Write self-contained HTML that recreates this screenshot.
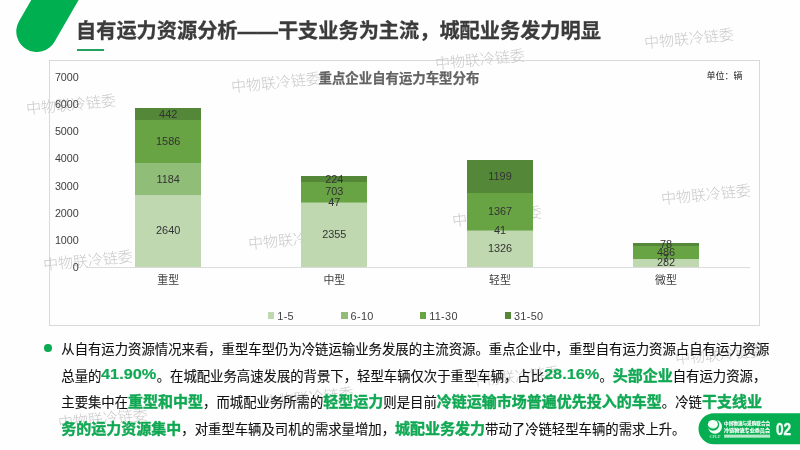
<!DOCTYPE html>
<html lang="zh-CN">
<head>
<meta charset="utf-8">
<title>自有运力资源分析</title>
<style>
html,body{margin:0;padding:0;}
body{width:800px;height:450px;overflow:hidden;background:#fefefe;font-family:"Liberation Sans","Noto Sans CJK SC",sans-serif;}
#slide{position:relative;width:800px;height:450px;overflow:hidden;background:#fefefe;}
.abs{position:absolute;white-space:nowrap;}
.pill{position:absolute;left:46.35px;top:-99.75px;width:41.4px;height:160px;border-radius:20.7px;background:#00b050;transform:rotate(30deg);transform-origin:50% 50%;}
.title{left:76px;top:15.5px;font-size:20.2px;line-height:30px;font-weight:700;color:#3b3b3b;-webkit-text-stroke:0.3px #3b3b3b;}
.tline{position:absolute;left:77px;top:49.2px;width:26.8px;height:1.8px;background:#22a15f;}
.chart{position:absolute;left:49px;top:60px;width:709px;height:264px;border:1px solid #d9d9d9;box-sizing:content-box;background:#fefefe;}
.ctitle{left:318.6px;top:69px;font-size:13.4px;line-height:20px;font-weight:700;color:#636363;-webkit-text-stroke:0.25px #636363;}
.unit{left:706.5px;top:67.8px;font-size:9px;line-height:16px;color:#1a1a1a;}
.yl{position:absolute;left:38.8px;width:40px;font-size:10.75px;line-height:14px;height:14px;color:#404040;text-align:right;}
.axis{position:absolute;left:86px;top:266.8px;width:664px;height:1px;background:#dcdcdc;}
.seg{position:absolute;width:66px;}
.s1{background:#bfd8b0;}
.s2{background:#90be78;}
.s3{background:#68a344;}
.s4{background:#548738;}
.dl{position:absolute;width:66px;text-align:center;font-size:10.9px;line-height:12px;height:12px;color:#333;}
.cat{position:absolute;width:66px;text-align:center;font-size:10.9px;line-height:14px;color:#404040;top:273px;}
.lg{position:absolute;top:312.2px;width:6.5px;height:6.5px;}
.lgt{top:308.5px;letter-spacing:0.3px;font-size:10.9px;line-height:14px;color:#404040;}
.bullet{position:absolute;left:44px;top:344.2px;width:7.6px;height:7.6px;border-radius:50%;background:#0aab53;}
.p{left:61.3px;font-size:13.36px;line-height:27px;height:27px;color:#111;-webkit-text-stroke:0.12px #111;}
.p b{font-size:15px;color:#10a853;font-weight:700;line-height:0;-webkit-text-stroke:0.4px #10a853;}
.p b.n{display:inline-block;font-size:15.4px;line-height:16px;vertical-align:baseline;-webkit-text-stroke:0.15px #10a853;position:relative;top:-1.4px;transform:scaleX(1.06);transform-origin:0 50%;margin-right:3.1px;}
.wm{position:absolute;white-space:nowrap;width:90px;text-align:center;font-size:15px;line-height:20px;height:20px;color:#c9c9c9;font-weight:300;transform:rotate(-5.5deg);transform-origin:50% 50%;}
.badge{position:absolute;left:698px;top:413px;width:120px;height:31px;border-radius:15.5px;background:#12a650;}
</style>
</head>
<body>
<div id="slide">
  <div class="pill"></div>
  <div class="abs title">自有运力资源分析——干支业务为主流，城配业务发力明显</div>
  <div class="tline"></div>

  <div class="chart"></div>
  <div class="wm" style="left:644.0px;top:29.0px">中物联冷链委</div>
  <div class="wm" style="left:435.0px;top:50.0px">中物联冷链委</div>
  <div class="wm" style="left:230.6px;top:72.8px">中物联冷链委</div>
  <div class="wm" style="left:26.0px;top:95.0px">中物联冷链委</div>
  <div class="wm" style="left:660.5px;top:185.0px">中物联冷链委</div>
  <div class="wm" style="left:451.5px;top:207.0px">中物联冷链委</div>
  <div class="wm" style="left:247.5px;top:229.5px">中物联冷链委</div>
  <div class="wm" style="left:42.5px;top:251.0px">中物联冷链委</div>
  <div class="wm" style="left:675.0px;top:344.8px">中物联冷链委</div>
  <div class="wm" style="left:470.0px;top:366.5px">中物联冷链委</div>
  <div class="wm" style="left:264.0px;top:388.0px">中物联冷链委</div>
  <div class="wm" style="left:58.0px;top:409.0px">中物联冷链委</div>
  <div class="abs ctitle">重点企业自有运力车型分布</div>
  <div class="abs unit">单位：辆</div>

  <div class="yl" style="top:69.62px">7000</div>
  <div class="yl" style="top:96.86px">6000</div>
  <div class="yl" style="top:124.10px">5000</div>
  <div class="yl" style="top:151.34px">4000</div>
  <div class="yl" style="top:178.58px">3000</div>
  <div class="yl" style="top:205.82px">2000</div>
  <div class="yl" style="top:233.06px">1000</div>
  <div class="yl" style="top:260.30px">0</div>
  <div class="axis"></div>

  <!-- bars inserted here -->
  <div id="bars">
  <div class="seg s4" style="left:135.2px;top:108.01px;height:158.59px"></div>
  <div class="seg s3" style="left:135.2px;top:119.99px;height:146.61px"></div>
  <div class="seg s2" style="left:135.2px;top:162.97px;height:103.63px"></div>
  <div class="seg s1" style="left:135.2px;top:195.06px;height:71.54px"></div>
  <div class="dl" style="left:135.2px;top:172.51px">1184</div>
  <div class="dl" style="left:135.2px;top:224.33px">2640</div>
  <div class="dl" style="left:135.2px;top:134.98px">1586</div>
  <div class="dl" style="left:135.2px;top:107.50px">442</div>
  <div class="cat" style="left:135.2px">重型</div>
  <div class="seg s4" style="left:301.3px;top:176.38px;height:90.22px"></div>
  <div class="seg s3" style="left:301.3px;top:182.45px;height:84.15px"></div>
  <div class="seg s2" style="left:301.3px;top:201.51px;height:65.09px"></div>
  <div class="seg s1" style="left:301.3px;top:202.78px;height:63.82px"></div>
  <div class="dl" style="left:301.3px;top:195.64px">47</div>
  <div class="dl" style="left:301.3px;top:228.19px">2355</div>
  <div class="dl" style="left:301.3px;top:185.48px">703</div>
  <div class="dl" style="left:301.3px;top:172.92px">224</div>
  <div class="cat" style="left:301.3px">中型</div>
  <div class="seg s4" style="left:467px;top:160.02px;height:106.58px"></div>
  <div class="seg s3" style="left:467px;top:192.51px;height:74.09px"></div>
  <div class="seg s2" style="left:467px;top:229.55px;height:37.05px"></div>
  <div class="seg s1" style="left:467px;top:230.67px;height:35.93px"></div>
  <div class="dl" style="left:467px;top:223.61px">41</div>
  <div class="dl" style="left:467px;top:242.13px">1326</div>
  <div class="dl" style="left:467px;top:204.53px">1367</div>
  <div class="dl" style="left:467px;top:169.76px">1199</div>
  <div class="cat" style="left:467px">轻型</div>
  <div class="seg s4" style="left:633px;top:243.48px;height:23.12px"></div>
  <div class="seg s3" style="left:633px;top:245.60px;height:21.00px"></div>
  <div class="seg s2" style="left:633px;top:258.77px;height:7.83px"></div>
  <div class="seg s1" style="left:633px;top:258.96px;height:7.64px"></div>
  <div class="dl" style="left:633px;top:252.36px">7</div>
  <div class="dl" style="left:633px;top:256.28px">282</div>
  <div class="dl" style="left:633px;top:245.68px">486</div>
  <div class="dl" style="left:633px;top:238.04px">78</div>
  <div class="cat" style="left:633px">微型</div>
  </div>

  <div class="lg s1" style="left:267.5px"></div><div class="abs lgt" style="left:277.3px">1-5</div>
  <div class="lg s2" style="left:341px"></div><div class="abs lgt" style="left:350.6px">6-10</div>
  <div class="lg s3" style="left:419.8px"></div><div class="abs lgt" style="left:429.2px">11-30</div>
  <div class="lg s4" style="left:504.5px"></div><div class="abs lgt" style="left:514px">31-50</div>

  <div class="bullet"></div>
  <div class="abs p" style="top:336px">从自有运力资源情况来看，重型车型仍为冷链运输业务发展的主流资源。重点企业中，重型自有运力资源占自有运力资源</div>
  <div class="abs p" style="top:362.5px">总量的<b class="n">41.90%</b>。在城配业务高速发展的背景下，轻型车辆仅次于重型车辆，占比<b class="n">28.16%</b>。<b>头部企业</b>自有运力资源，</div>
  <div class="abs p" style="top:389px">主要集中在<b>重型和中型</b>，而城配业务所需的<b>轻型运力</b>则是目前<b>冷链运输市场普遍优先投入的车型</b>。冷链<b>干支线业</b></div>
  <div class="abs p" style="top:415.8px"><b>务的运力资源集中</b>，对重型车辆及司机的需求量增加，<b>城配业务发力</b>带动了冷链轻型车辆的需求上升。</div>

  <svg class="abs" style="left:698px;top:412px" width="102" height="34" viewBox="698 412 102 34">
    <path d="M800 413.3H714a15.5 15.5 0 0 0 0 31H800z" fill="#05ae50"/>
    <circle cx="715" cy="426.8" r="7" fill="#f4fff8"/>
    <circle cx="713.1" cy="424.7" r="6.1" fill="#05ae50"/>
    <ellipse cx="712.9" cy="424.3" rx="5" ry="4.3" fill="#f4fff8"/>
    <path d="M708.2 425.5a5 4.3 0 0 0 8.6 1.6a6.5 6 0 0 1-8.6-1.6z" fill="#8fd9ae"/>
    <text x="715" y="437.9" font-family="'Liberation Serif','Noto Serif CJK SC',serif" font-size="4.6" font-weight="700" fill="#bfeed2" text-anchor="middle" textLength="11" lengthAdjust="spacingAndGlyphs">CFLP</text>
    <text x="724.1" y="425.3" font-family="'Liberation Sans','Noto Sans CJK SC',sans-serif" font-size="4.6" font-weight="700" fill="#ffffff" stroke="#ffffff" stroke-width="0.12" textLength="46" lengthAdjust="spacingAndGlyphs">中国物流与采购联合会</text>
    <text x="724.1" y="431.9" font-family="'Liberation Sans','Noto Sans CJK SC',sans-serif" font-size="5" font-weight="700" fill="#ffffff" stroke="#ffffff" stroke-width="0.12" textLength="46" lengthAdjust="spacingAndGlyphs">冷链物流专业委员会</text>
    <rect x="724.1" y="434.6" width="46" height="3.1" fill="#b4e8c9"/>
    <text x="783.6" y="434.9" font-family="'Liberation Sans',sans-serif" font-size="16.4" font-weight="700" fill="#f2fff7" stroke="#f2fff7" stroke-width="0.35" text-anchor="middle" textLength="15.2" lengthAdjust="spacingAndGlyphs">02</text>
  </svg>
</div>
</body>
</html>
